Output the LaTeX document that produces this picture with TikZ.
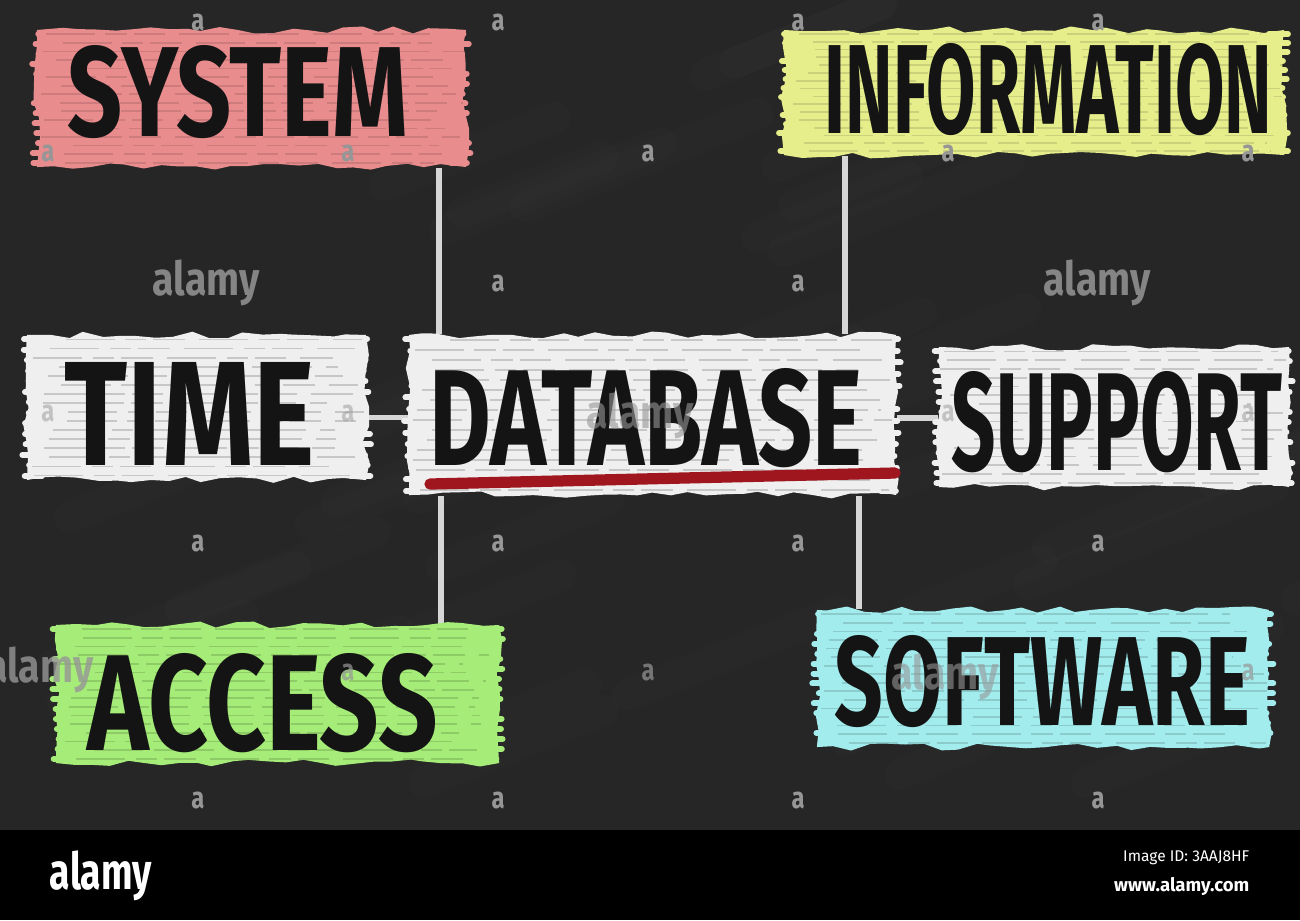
\documentclass[tikz,border=0pt]{standalone}
\usepackage{fontspec}
\setmainfont{Fira Sans}
\usepackage{graphicx}
\usetikzlibrary{decorations.pathmorphing,calc}
\pgfdeclarelayer{bg}
\pgfsetlayers{bg,main}
\definecolor{board}{HTML}{262626}
\definecolor{pinkc}{HTML}{E98C8D}
\definecolor{yellowc}{HTML}{E6EE8C}
\definecolor{whitec}{HTML}{EFEFEF}
\definecolor{greenc}{HTML}{A6EC78}
\definecolor{cyanc}{HTML}{A2ECEE}
\definecolor{redline}{HTML}{A0161F}
\definecolor{chalk}{HTML}{D6D6D6}
\definecolor{ink}{HTML}{141414}
\definecolor{wmgray}{HTML}{969696}
\tikzset{
  boxsty/.style={draw=none, inner sep=0pt, decorate,
    decoration={random steps, segment length=5pt, amplitude=1pt}},
  conn/.style={draw=chalk, line width=1.6pt},
  lbl/.style={inner sep=0pt, text=ink, font=\bfseries},
  wm/.style={inner sep=0pt, text=wmgray, font=\bfseries},
  wmbig/.style={inner sep=0pt, text=wmgray, font=\bfseries, opacity=0.85},
}
% ragged brush ends
\newcommand\rag[5]{%
  \foreach \k in {0,...,13}{%
    \pgfmathsetmacro\yy{#2+4+(#4-#2-8)*\k/13}%
    \pgfmathsetmacro\la{#1+4-rnd*9}%
    \pgfmathsetmacro\ra{#3-4+rnd*9}%
    \draw[#5, line width=1.7pt, line cap=round] (\la,\yy) -- (#1+15,\yy);
    \draw[#5, line width=1.7pt, line cap=round] (\ra,\yy) -- (#3-15,\yy);
  }}
% brush texture streaks
\newcommand\streaks[5]{%
  \foreach \k in {1,...,16}{%
    \pgfmathsetmacro\yy{#2+(#4-#2)*(\k-0.5)/16}%
    \pgfmathsetmacro\xa{#1+5+rnd*40}%
    \pgfmathsetmacro\xb{#3-5-rnd*40}%
    \draw[#5, line width=0.5pt, opacity=0.4,
      dash pattern=on 14pt off 3pt on 6pt off 2pt on 9pt off 4pt] (\xa,\yy) -- (\xb,\yy);
  }}
\begin{document}
\begin{tikzpicture}[x=0.01cm, y=-0.01cm]
\pgfmathsetseed{7}
\useasboundingbox (0,0) rectangle (1300,920);

% ---------- boxes ----------
\node[boxsty, fill=pinkc,   minimum width=4.29cm, minimum height=1.37cm] (system)      at (251.5,98.5) {};
\node[boxsty, fill=yellowc, minimum width=5.00cm, minimum height=1.25cm] (information) at (1034,92.5) {};
\node[boxsty, fill=whitec,  minimum width=3.39cm, minimum height=1.45cm] (time)        at (196.5,407.5) {};
\node[boxsty, fill=whitec,  minimum width=4.87cm, minimum height=1.60cm] (database)    at (652.5,415) {};
\node[boxsty, fill=whitec,  minimum width=3.50cm, minimum height=1.40cm] (support)     at (1114,417) {};
\node[boxsty, fill=greenc,  minimum width=4.43cm, minimum height=1.38cm] (access)      at (277.5,694) {};
\node[boxsty, fill=cyanc,   minimum width=4.52cm, minimum height=1.37cm] (software)    at (1043,678.5) {};

% ---------- background and connectors ----------
\begin{pgfonlayer}{bg}
  \fill[board] (0,0) rectangle (1300,830);
  \foreach \k in {1,...,45}{%
    \pgfmathsetmacro\sx{rnd*1300}%
    \pgfmathsetmacro\sy{60+rnd*760}%
    \pgfmathsetmacro\sl{80+rnd*180}%
    \draw[white, opacity=0.012, line width=9pt, line cap=round]
      (\sx,\sy) -- ++(\sl,-0.4*\sl);
  }
  \fill[black] (0,830) rectangle (1300,920);
  \draw[conn] ([xshift=-0.28cm]system.south east) -- ([xshift=-0.28cm]system.south east |- database.north);
  \draw[conn] ([xshift=0.62cm]information.south west) -- ([xshift=0.62cm]information.south west |- database.north);
  \draw[conn] ([xshift=0.33cm]database.south west) -- ([xshift=0.33cm]database.south west |- access.north);
  \draw[conn] ([xshift=-0.38cm]database.south east) -- ([xshift=-0.38cm]database.south east |- software.north);
  \draw[conn] ([yshift=-0.1cm]time.east) -- ([yshift=-0.1cm]time.east -| database.west);
  \draw[conn] ([yshift=-0.03cm]database.east) -- ([yshift=-0.03cm]database.east -| support.west);
\end{pgfonlayer}

% ---------- brush texture ----------
\rag{37}{30}{466}{167}{pinkc}
\rag{784}{30}{1284}{155}{yellowc}
\rag{27}{335}{366}{480}{whitec}
\rag{409}{335}{896}{495}{whitec}
\rag{939}{347}{1289}{487}{whitec}
\rag{56}{625}{499}{763}{greenc}
\rag{817}{610}{1269}{747}{cyanc}
\streaks{33}{30}{470}{167}{pinkc!70!black}
\streaks{780}{30}{1288}{155}{yellowc!70!black}
\streaks{23}{335}{370}{480}{black!45}
\streaks{405}{335}{900}{495}{black!45}
\streaks{935}{347}{1293}{487}{black!45}
\streaks{52}{625}{503}{763}{greenc!65!black}
\streaks{813}{610}{1273}{747}{cyanc!65!black}

% ---------- labels ----------
\node[lbl] (systemtxt)   at (238,92.5)    {\resizebox{3.40cm}{0.91cm}{SYSTEM}};
\node[lbl] (infotxt)     at (1048.5,90)   {\resizebox{4.47cm}{0.90cm}{INFORMATION}};
\node[lbl] (timetxt)     at (190,413.5)   {\resizebox{2.50cm}{1.03cm}{TIME}};
\node[lbl] (dbtxt)       at (646,418.5)   {\resizebox{4.32cm}{0.97cm}{DATABASE}};
\node[lbl] (supporttxt)  at (1117,422.5)  {\resizebox{3.30cm}{0.99cm}{SUPPORT}};
\node[lbl] (accesstxt)   at (263,703.5)   {\resizebox{3.50cm}{0.97cm}{ACCESS}};
\node[lbl] (softwaretxt) at (1042.5,682)  {\resizebox{4.15cm}{0.90cm}{SOFTWARE}};
\draw[redline, line width=3.2pt, line cap=round] (430,484) -- (895,473);

% ---------- watermarks ----------
\foreach \x in {198,498,798,1098}{
  \foreach \y in {22,543,800}{
    \node[wm] at (\x,\y) {\resizebox*{0.13cm}{0.17cm}{a}};
  }}
\foreach \x in {498,798}{ \node[wm] at (\x,283) {\resizebox*{0.13cm}{0.17cm}{a}}; }
\foreach \x in {48,348,648,948,1248}{ \node[wm] at (\x,153) {\resizebox*{0.13cm}{0.17cm}{a}}; }
\foreach \x in {48,348,948,1248}{ \node[wm, opacity=0.5] at (\x,413) {\resizebox*{0.13cm}{0.17cm}{a}}; }
\foreach \x in {348,648,1248}{ \node[wm, opacity=0.7] at (\x,672) {\resizebox*{0.13cm}{0.17cm}{a}}; }
\node[wmbig] (wm1) at (206,283) {\resizebox*{1.07cm}{0.46cm}{alamy}};
\node[wmbig] (wm2) at (1097,283) {\resizebox*{1.07cm}{0.46cm}{alamy}};
\node[wmbig, opacity=0.6] (wm3) at (640,416) {\resizebox*{1.07cm}{0.46cm}{alamy}};
\node[wmbig, opacity=0.6] (wm4) at (945,677) {\resizebox*{1.07cm}{0.46cm}{alamy}};
\node[wmbig, opacity=0.8] (wm5) at (40,670) {\resizebox*{1.07cm}{0.46cm}{alamy}};

% ---------- bottom bar ----------
\node[inner sep=0pt, text=white, font=\bfseries] (brand) at (101,876) {\resizebox*{1.02cm}{0.50cm}{alamy}};
\node[inner sep=0pt, text=white, anchor=east] (imgid) at (1250,858) {\resizebox{1.26cm}{!}{Image ID: 3AAJ8HF}};
\node[inner sep=0pt, text=white, anchor=east, font=\bfseries] (site) at (1250,886) {\resizebox{1.35cm}{!}{www.alamy.com}};
\end{tikzpicture}
\end{document}
